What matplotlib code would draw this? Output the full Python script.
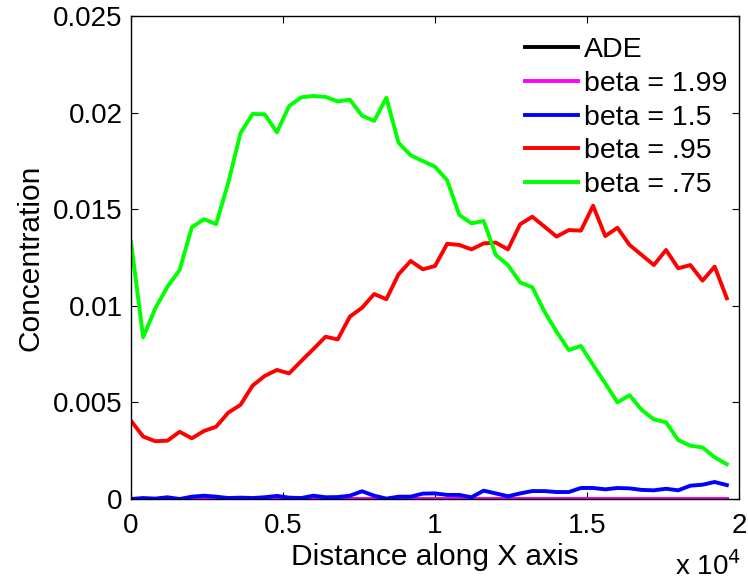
import matplotlib
matplotlib.use("Agg")
import matplotlib.pyplot as plt
import numpy as np

plt.rcParams['font.family'] = ['Liberation Sans', 'DejaVu Sans']

# distance along x axis, 50 samples every 400 m
x = np.arange(0, 20000, 400)

ade = np.zeros(50)
beta_199 = np.zeros(50)
beta_15 = [0, 0.05e-3, 0.02e-3, 0.09e-3, 0, 0.12e-3, 0.17e-3, 0.12e-3, 0.05e-3, 0.07e-3,
           0.05e-3, 0.09e-3, 0.16e-3, 0.07e-3, 0.05e-3, 0.17e-3, 0.09e-3, 0.10e-3, 0.17e-3, 0.40e-3,
           0.17e-3, 0.02e-3, 0.12e-3, 0.12e-3, 0.28e-3, 0.29e-3, 0.21e-3, 0.21e-3, 0.09e-3, 0.43e-3,
           0.29e-3, 0.14e-3, 0.29e-3, 0.41e-3, 0.41e-3, 0.36e-3, 0.36e-3, 0.57e-3, 0.57e-3, 0.50e-3,
           0.57e-3, 0.55e-3, 0.47e-3, 0.45e-3, 0.53e-3, 0.45e-3, 0.69e-3, 0.74e-3, 0.88e-3, 0.72e-3]
beta_095 = [4.05e-3, 3.23e-3, 2.99e-3, 3.02e-3, 3.48e-3, 3.14e-3, 3.52e-3, 3.74e-3, 4.47e-3, 4.87e-3,
            5.87e-3, 6.37e-3, 6.68e-3, 6.50e-3, 7.14e-3, 7.76e-3, 8.40e-3, 8.26e-3, 9.44e-3, 9.90e-3,
            10.61e-3, 10.34e-3, 11.63e-3, 12.32e-3, 11.89e-3, 12.06e-3, 13.21e-3, 13.15e-3, 12.92e-3, 13.23e-3,
            13.27e-3, 12.92e-3, 14.22e-3, 14.61e-3, 14.10e-3, 13.58e-3, 13.92e-3, 13.89e-3, 15.18e-3, 13.61e-3,
            14.04e-3, 13.15e-3, 12.63e-3, 12.11e-3, 12.89e-3, 11.94e-3, 12.11e-3, 11.30e-3, 12.03e-3, 10.39e-3]
beta_075 = [13.3e-3, 8.37e-3, 9.87e-3, 10.99e-3, 11.85e-3, 14.06e-3, 14.48e-3, 14.23e-3, 16.37e-3, 18.93e-3,
            19.93e-3, 19.91e-3, 18.98e-3, 20.34e-3, 20.79e-3, 20.86e-3, 20.81e-3, 20.58e-3, 20.67e-3, 19.84e-3,
            19.57e-3, 20.77e-3, 18.44e-3, 17.79e-3, 17.49e-3, 17.20e-3, 16.50e-3, 14.70e-3, 14.27e-3, 14.39e-3,
            12.63e-3, 12.11e-3, 11.21e-3, 10.96e-3, 9.70e-3, 8.66e-3, 7.71e-3, 7.92e-3, 6.94e-3, 5.99e-3,
            5.00e-3, 5.37e-3, 4.61e-3, 4.12e-3, 3.97e-3, 3.05e-3, 2.76e-3, 2.67e-3, 2.16e-3, 1.80e-3]

xticks = [0, 5000, 10000, 15000, 20000]
xticklabels = ['0', '0.5', '1', '1.5', '2']
yticks = [0, 0.005, 0.01, 0.015, 0.02, 0.025]
yticklabels = ['0', '0.005', '0.01', '0.015', '0.02', '0.025']

fig = plt.figure(figsize=(7.48, 5.80), dpi=100)
ax = fig.add_axes([131 / 748, 1 - 499 / 580, 608 / 748, 483 / 580])

lw = 2.8
ax.plot(x, ade, color='black', lw=lw, label='ADE')
ax.plot(x, beta_199, color='#ff00ff', lw=lw, label='beta = 1.99')
ax.plot(x, beta_15, color='#0000ff', lw=lw, label='beta = 1.5')
ax.plot(x, beta_095, color='#ff0000', lw=lw, label='beta = .95')
ax.plot(x, beta_075, color='#00ff00', lw=lw, label='beta = .75')

ax.set_xlim(0, 20000)
ax.set_ylim(0, 0.025)
ax.set_xticks(xticks)
ax.set_xticklabels(xticklabels)
ax.set_yticks(yticks)
ax.set_yticklabels(yticklabels)
ax.tick_params(direction='in', length=5, top=True, right=True, labelsize=20)
ax.tick_params(axis='x', pad=10)
ax.tick_params(axis='y', pad=6)
for sp in ax.spines.values():
    sp.set_linewidth(1.0)

ax.set_xlabel('Distance along X axis', fontsize=21.5, labelpad=3)
ax.set_ylabel('Concentration', fontsize=21.5, labelpad=6)
fig.text(675 / 748, 1 - 575 / 580, 'x 10$^{4}$', fontsize=20, ha='left', va='baseline')

ax.legend(loc='upper left', bbox_to_anchor=(511 / 748, 1 - 23 / 580),
          bbox_transform=fig.transFigure, frameon=False, fontsize=20.5,
          handlelength=1.85, handletextpad=0.22, labelspacing=0.27, borderpad=0)

fig.savefig('out.png', dpi=100)
